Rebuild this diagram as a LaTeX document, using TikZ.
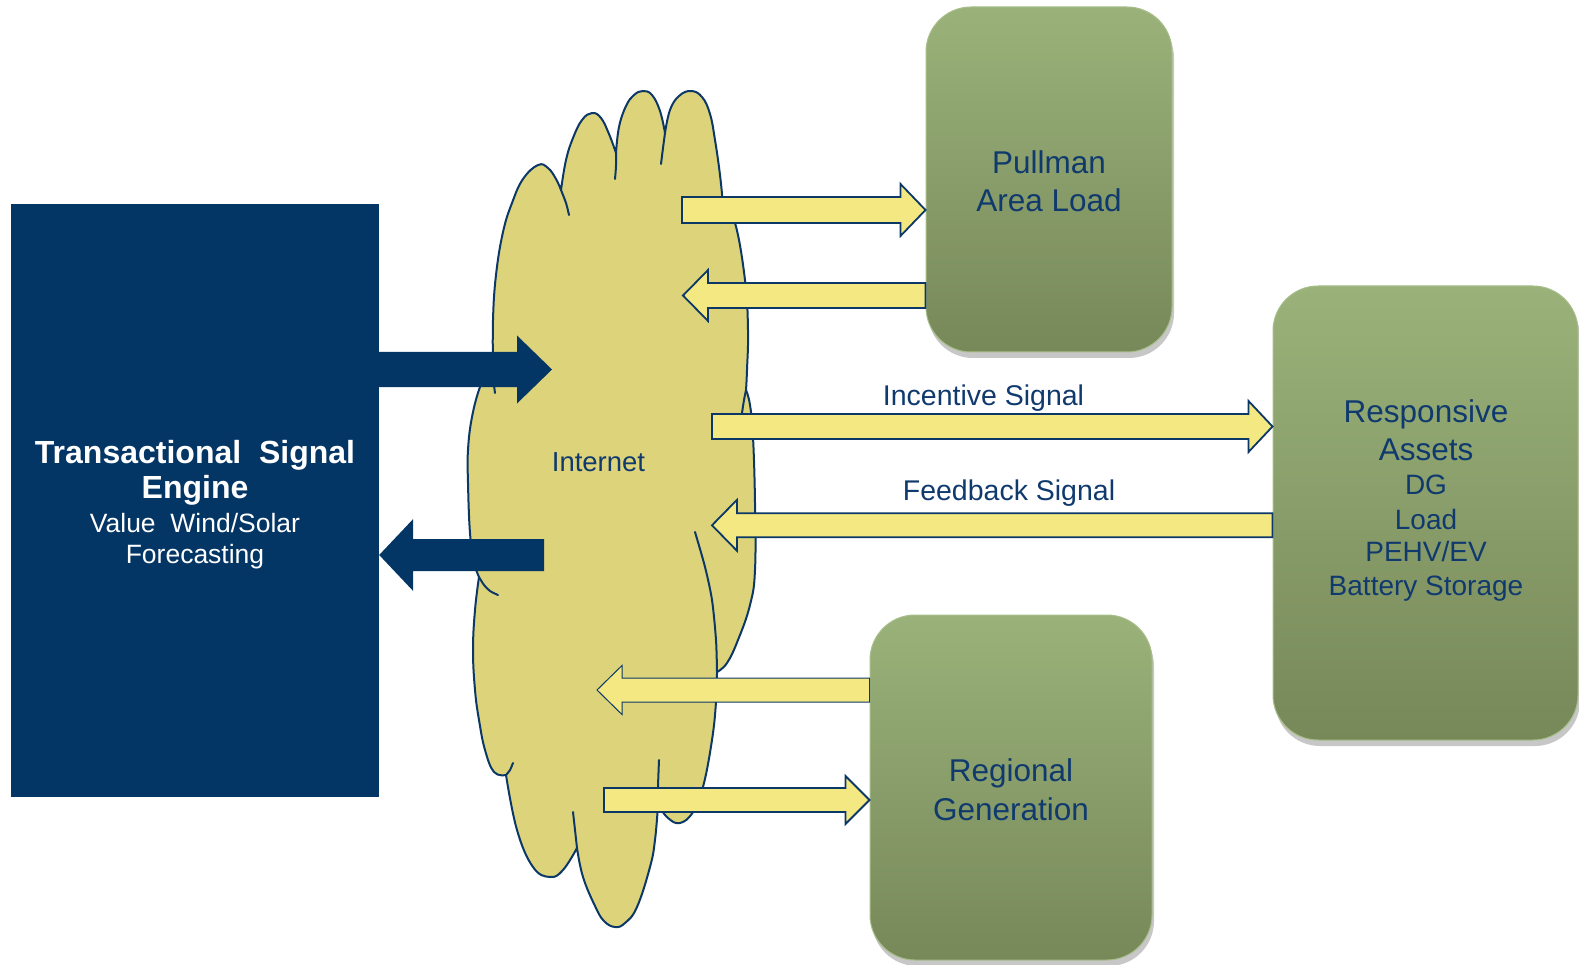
\documentclass[tikz,border=0pt]{standalone}
\usepackage{fontspec}
\setmainfont{Liberation Sans}
\usetikzlibrary{calc,shadows}
\definecolor{navy}{RGB}{3,53,101}
\definecolor{cloudfill}{RGB}{221,211,122}
\definecolor{cloudline}{RGB}{12,56,104}
\definecolor{yfill}{RGB}{243,232,130}
\definecolor{gtop}{RGB}{154,178,122}
\definecolor{gbot}{RGB}{119,136,89}
\definecolor{gedge}{RGB}{168,190,138}
\definecolor{txtblue}{RGB}{16,58,110}
\newcommand\fsBold{\fontsize{32}{36}\selectfont\bfseries}
\newcommand\fsReg{\fontsize{26.5}{30}\selectfont}
\newcommand\fsBig{\fontsize{31.5}{36}\selectfont}
\newcommand\fsMid{\fontsize{28}{32}\selectfont}
\newcommand\fsLab{\fontsize{28.5}{32}\selectfont}
\newcommand\fsNet{\fontsize{27.5}{32}\selectfont}
% block arrow: [style]{tail}{tip}{shaft half width}{head half width}{head length}
\newcommand\blockarrow[6][]{%
  \draw[#1] let \p1=(#2), \p2=(#3), \n1={#6*(\x2-\x1)/abs(\x2-\x1)} in
    (\x1,\y1+#4) -- (\x2-\n1,\y1+#4) -- (\x2-\n1,\y1+#5) -- (\x2,\y2)
    -- (\x2-\n1,\y1-#5) -- (\x2-\n1,\y1-#4) -- (\x1,\y1-#4) -- cycle;}
\begin{document}
\begin{tikzpicture}[x=1pt,y=-1pt,
  greenbox/.style={rectangle, rounded corners=45pt, inner sep=0pt,
    top color=gtop, bottom color=gbot, draw=gedge, line width=1pt,
    drop shadow={shadow xshift=2pt, shadow yshift=-6pt, fill=black!22, opacity=1}},
  bluebox/.style={rectangle, inner sep=0pt, fill=navy},
  cloudstroke/.style={draw=cloudline, line width=2pt, line join=round, line cap=round},
  yarrow/.style={fill=yfill, draw=cloudline, line width=1.8pt, line join=miter},
  yarrowthin/.style={fill=yfill, draw=cloudline, line width=1pt, line join=miter},
  barrow/.style={fill=navy, draw=none},
  txt/.style={text=txtblue, inner sep=0pt, anchor=base},
  wtxt/.style={text=white, inner sep=0pt, anchor=base},
  lobe/.style={smooth, tension=0.7}]
\useasboundingbox (0,0) rectangle (1579,965);

% ---- cloud ----
\path[fill=cloudfill, cloudstroke]
 plot[lobe] coordinates {(493,372) (493,320) (496,275) (503,232) (512,203) (523,179) (538,165) (548,168) (556,179) (561,190)}
 -- plot[lobe] coordinates {(561,190) (566,160) (573,138) (582,120) (592,113) (601,118) (609,134) (616,153)}
 -- plot[lobe] coordinates {(616,153) (619,127) (626,106) (634,95) (643,91) (652,95) (660,111) (665,133)}
 -- plot[lobe] coordinates {(665,133) (670,110) (679,96) (691,91) (702,97) (710,114) (715,140) (720,175) (723,205)}
 -- plot[lobe] coordinates {(723,205) (735,223) (745,280) (748,330) (747,370) (746,390)}
 -- plot[lobe] coordinates {(746,390) (750,405) (753,437) (755,503) (755,570) (750,605) (738,640) (727,663) (717,672)}
 -- plot[lobe] coordinates {(717,672) (716,702) (712,740) (703,787) (693,812) (680,823) (668,818) (658,805)}
 -- plot[lobe] coordinates {(658,805) (655,840) (650,867) (637,907) (625,923) (615,927) (604,921) (595,906) (583,877) (577,848)}
 -- plot[lobe] coordinates {(577,848) (563,870) (550,877) (533,867) (517,830) (506,775)}
 -- plot[lobe] coordinates {(506,775) (494,772) (485,750) (479,720) (475,690) (473,650) (475,610) (479,577)}
 -- plot[lobe] coordinates {(479,577) (474,562) (470,533) (468,483) (468,450) (472,417) (480,387) (487,377) (493,372)}
 -- cycle;
% inner ticks of the cloud
\draw[cloudstroke] plot[smooth] coordinates {(493,372) (494,385) (495,393)};
\draw[cloudstroke] plot[smooth] coordinates {(561,190) (566,203) (569,215)};
\draw[cloudstroke] plot[smooth] coordinates {(616,153) (616,166) (615,179)};
\draw[cloudstroke] plot[smooth] coordinates {(665,133) (663,148) (661,164)};
\draw[cloudstroke] plot[smooth] coordinates {(746,390) (744,400) (742,413)};
\draw[cloudstroke] plot[smooth] coordinates {(717,672) (716,640) (712,600) (705,567) (695,532)};
\draw[cloudstroke] plot[smooth] coordinates {(658,805) (658,787) (659,760)};
\draw[cloudstroke] plot[smooth] coordinates {(577,848) (575,830) (573,812)};
\draw[cloudstroke] plot[smooth] coordinates {(506,775) (510,770) (513,763)};
\draw[cloudstroke] plot[smooth] coordinates {(479,577) (484,585) (490,591) (498,595)};
\node[txt, font=\fsNet] (inet) at (598.5,471.7) {Internet};

% ---- boxes ----
\node[bluebox, minimum width=368pt, minimum height=593pt] (tse) at (195,500.5) {};
\node[greenbox, minimum width=246pt, minimum height=345pt] (pull) at (1049,179.5) {};
\node[greenbox, minimum width=305pt, minimum height=454pt] (resp) at (1425.5,513) {};
\node[greenbox, minimum width=282pt, minimum height=345pt] (reg) at (1011,787.5) {};

% ---- arrow anchor points ----
\coordinate (b1) at (552,369.5);
\coordinate (b2) at (544,555);
\coordinate (a1) at (682,210);
\coordinate (a2) at (683,295.5);
\coordinate (a3) at (712,426.5);
\coordinate (a4) at (712,525.3);
\coordinate (a5) at (597,690);
\coordinate (a6) at (604,800);

% ---- blue arrows ----
\blockarrow[barrow]{tse.east|-b1}{b1}{17.5}{34}{35}
\blockarrow[barrow]{b2}{tse.east|-b2}{16}{36}{34}

% ---- yellow arrows ----
\blockarrow[yarrow]{a1}{pull.west|-a1}{13}{26}{25}
\blockarrow[yarrow]{pull.west|-a2}{a2}{12.5}{25.5}{25}
\blockarrow[yarrow]{a3}{resp.west|-a3}{12.5}{25.5}{24}
\blockarrow[yarrow]{resp.west|-a4}{a4}{12}{25.5}{25}
\blockarrow[yarrowthin]{reg.west|-a5}{a5}{12}{24.5}{25}
\blockarrow[yarrow]{a6}{reg.west|-a6}{12}{24}{24}

% ---- labels ----
\node[txt, font=\fsLab] (linc) at (983.5,405) {Incentive Signal};
\node[txt, font=\fsLab] (lfb) at (1009,500) {Feedback Signal};

\node[wtxt, font=\fsBold] (t1) at (195,463) {Transactional\ \ Signal};
\node[wtxt, font=\fsBold] (t2) at (195,498) {Engine};
\node[wtxt, font=\fsReg] (t3) at (195,532) {Value\ \ Wind/Solar};
\node[wtxt, font=\fsReg] (t4) at (195,563.5) {Forecasting};

\node[txt, font=\fsBig] (p1) at (1049,173.3) {Pullman};
\node[txt, font=\fsBig] (p2) at (1049,211.7) {Area Load};

\node[txt, font=\fsBig] (r1) at (1426,422.7) {Responsive};
\node[txt, font=\fsBig] (r2) at (1426,460.7) {Assets};
\node[txt, font=\fsMid] (r3) at (1426,494) {DG};
\node[txt, font=\fsMid] (r4) at (1426,529) {Load};
\node[txt, font=\fsMid] (r5) at (1426,561.7) {PEHV/EV};
\node[txt, font=\fsMid] (r6) at (1426,595) {Battery Storage};

\node[txt, font=\fsBig] (g1) at (1011,781.7) {Regional};
\node[txt, font=\fsBig] (g2) at (1011,820) {Generation};
\end{tikzpicture}
\end{document}
